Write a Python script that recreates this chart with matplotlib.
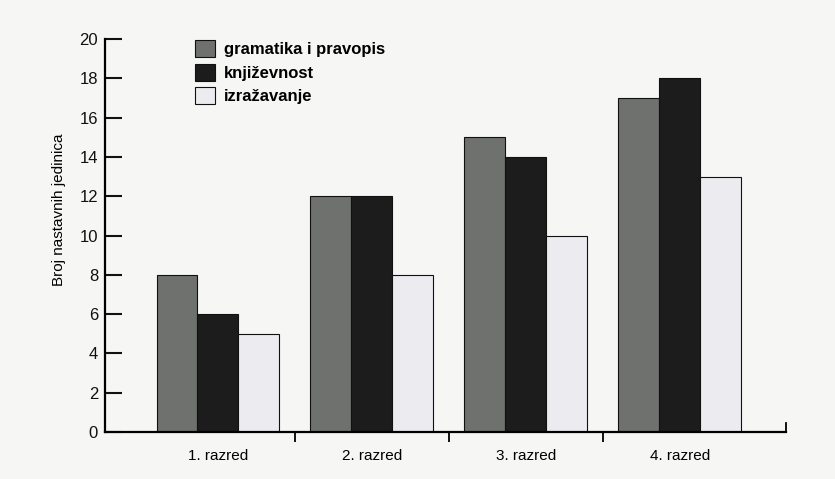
import matplotlib.pyplot as plt
import numpy as np

razredi = ["1. razred", "2. razred", "3. razred", "4. razred"]
gramatika = [8, 12, 15, 17]
knjizevnost = [6, 12, 14, 18]
izrazavanje = [5, 8, 10, 13]

plt.rcParams['font.family'] = ['Liberation Sans', 'DejaVu Sans']

fig = plt.figure(figsize=(8.35, 4.79), dpi=100)
fig.patch.set_facecolor('#f6f6f5')
ax = fig.add_axes([0.1257, 0.0981, 0.8156, 0.8205])
ax.set_facecolor('#f6f6f5')

x = np.arange(len(razredi))
w = 0.266
ax.bar(x - w, gramatika, w, color='#6f716f', edgecolor='#111111', linewidth=0.8,
       label='gramatika i pravopis')
ax.bar(x, knjizevnost, w, color='#1c1c1c', edgecolor='#111111', linewidth=0.8,
       label='književnost')
ax.bar(x + w, izrazavanje, w, color='#ececf0', edgecolor='#111111', linewidth=0.8,
       label='izražavanje')

ax.set_xlim(-0.734, 3.69)
ax.set_ylim(0, 20)
ax.set_yticks(range(0, 21, 2))
ax.tick_params(axis='y', direction='in', length=12, width=1.5, labelsize=12,
               pad=5, colors='#111111')
ax.set_xticks(x)
ax.set_xticklabels(razredi)
ax.set_xticks([0.5, 1.5, 2.5], minor=True)
ax.tick_params(axis='x', which='major', length=0, labelsize=11, pad=12)
ax.tick_params(axis='x', which='minor', direction='out', length=7, width=1.3)

for s in ['left', 'bottom']:
    ax.spines[s].set_linewidth(1.6)
ax.spines['top'].set_visible(False)
ax.spines['right'].set_bounds(0, 0.45)
ax.spines['right'].set_linewidth(1.3)

ax.set_ylabel('Broj nastavnih jedinica', fontsize=11)
ax.yaxis.set_label_coords(-0.057, 0.565)

ax.legend(loc='upper left', bbox_to_anchor=(0.11, 1.035), frameon=False,
          handlelength=1.2, handleheight=1.2, handletextpad=0.55,
          labelspacing=0.38, prop={'weight': 'bold', 'size': 12})

fig.savefig('out.png', dpi=100, facecolor=fig.get_facecolor())
